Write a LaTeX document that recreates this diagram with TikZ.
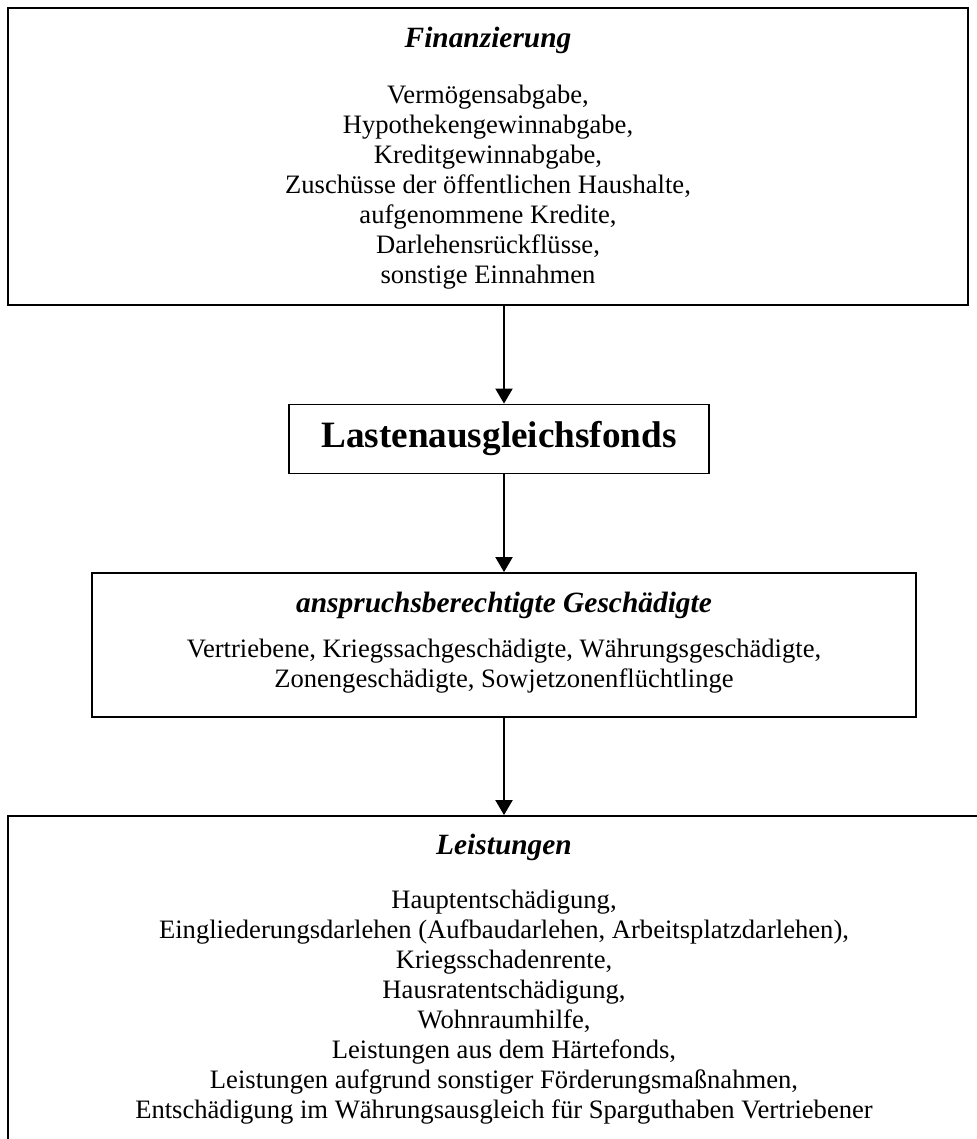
\documentclass[tikz,border=0pt]{standalone}
\usepackage{fontspec}
\setmainfont{Liberation Serif}
\usepackage{tikz}
\usetikzlibrary{positioning}
\usetikzlibrary{arrows.meta}

\tikzset{
  kasten/.style={draw, line width=0.9pt, inner sep=0pt},
  titel/.style={font=\fontsize{14.7}{17}\selectfont\bfseries\itshape, inner sep=0pt},
  liste/.style={font=\fontsize{13.3}{15}\selectfont, align=center, inner sep=0pt},
  pfeil/.style={line width=1pt, -{Triangle[length=7.5pt,width=8.5pt]}},
}

\begin{document}
\begin{tikzpicture}[x=0.5pt, y=-0.5pt]
  \useasboundingbox (0,0) rectangle (977,1139);
  \clip (0,0) rectangle (977,1139);

  % Finanzierung
  \node[kasten, minimum width=480pt, minimum height=148.5pt] (fin) at (488,156.5) {};
  \node[titel] (finT) at (488,40) {Finanzierung};
  \node[liste, anchor=north] (finL) at (488,85) {Vermögensabgabe,\\ Hypothekengewinnabgabe,\\ Kreditgewinnabgabe,\\ Zuschüsse der öffentlichen Haushalte,\\ aufgenommene Kredite,\\ Darlehensrückflüsse,\\ sonstige Einnahmen};

  % Fonds
  \node[kasten, minimum width=210pt, minimum height=34.5pt, font=\fontsize{18.6}{21}\selectfont\bfseries] (fonds) at (499,439) {Lastenausgleichsfonds};

  % Geschaedigte
  \node[kasten, minimum width=412pt, minimum height=72pt] (gesch) at (504,645) {};
  \node[titel] (geschT) at (504,605) {anspruchsberechtigte Geschädigte};
  \node[liste, anchor=north] (geschL) at (504,639) {Vertriebene, Kriegssachgeschädigte, Währungsgeschädigte,\\ Zonengeschädigte, Sowjetzonenflüchtlinge};

  % Leistungen
  \node[kasten, minimum width=496pt, minimum height=170pt] (leist) at (504,986) {};
  \node[titel] (leistT) at (504,847) {Leistungen};
  \node[liste, anchor=north] (leistL) at (504,890) {Hauptentschädigung,\\ Eingliederungsdarlehen (Aufbaudarlehen, Arbeitsplatzdarlehen),\\ Kriegsschadenrente,\\ Hausratentschädigung,\\ Wohnraumhilfe,\\ Leistungen aus dem Härtefonds,\\ Leistungen aufgrund sonstiger Förderungsmaßnahmen,\\ Entschädigung im Währungsausgleich für Sparguthaben Vertriebener};

  \draw[pfeil] (fin.south -| gesch.north) -- (fonds.north -| gesch.north);
  \draw[pfeil] (fonds.south -| gesch.north) -- (gesch.north);
  \draw[pfeil] (gesch.south) -- (leist.north);
\end{tikzpicture}
\end{document}
